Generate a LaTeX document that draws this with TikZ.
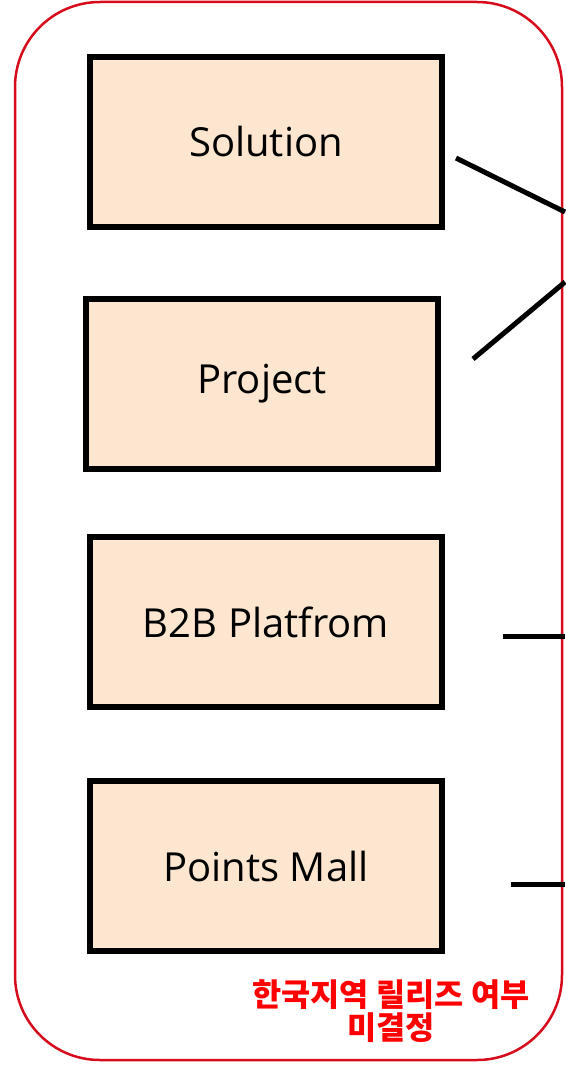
\documentclass[tikz,border=0pt]{standalone}
\usepackage{fontspec}
\setmainfont{Open Sans}
\newfontfamily\krfont{Noto Sans CJK KR}
\usetikzlibrary{positioning}
\usetikzlibrary{math}

\definecolor{boxfill}{RGB}{253,230,208}
\definecolor{frame}{RGB}{214,12,28}
\definecolor{note}{RGB}{255,0,0}

\begin{document}
\begin{tikzpicture}[x=1pt,y=-1pt,
    item/.style={draw=black, line width=5.5pt, fill=boxfill, inner sep=0pt,
      minimum width=352pt, minimum height=170pt,
      font=\fontsize{40}{48}\selectfont},
    link/.style={black, line width=5pt}]
      \tikzmath{
        \W = 565;
        \H = 1067;
        \r = 85;
      }

      \useasboundingbox (0,0) rectangle (\W,\H);

      \draw[frame, line width=2.5pt, rounded corners=\r pt] (15,2) rectangle (562,1060);

      \node[item] (sol) at (266,142) {Solution};
      \node[item] (proj) at (262,384) {Project};
      \node[item] (b2b) at (266,622) {B2B Platfrom};
      \node[item] (mall) at (266,866) {Points Mall};

      \coordinate (solA) at (456,158);
      \coordinate (solB) at (\W,212);
      \coordinate (projA) at (473,359);
      \coordinate (projB) at (\W,282);
      \coordinate (b2bA) at (503,636);
      \coordinate (b2bB) at (\W,636);
      \coordinate (mallA) at (511,884);
      \coordinate (mallB) at (\W,884);

      \draw[link] (solA) -- (solB);
      \draw[link] (projA) -- (projB);
      \draw[link] (b2bA) -- (b2bB);
      \draw[link] (mallA) -- (mallB);

      \node[text=note, align=center, font=\krfont\bfseries\fontsize{31.7}{33}\selectfont]
      (memo) at (391,1011) {한국지역 릴리즈 여부\\미결정};
\end{tikzpicture}
\end{document}
